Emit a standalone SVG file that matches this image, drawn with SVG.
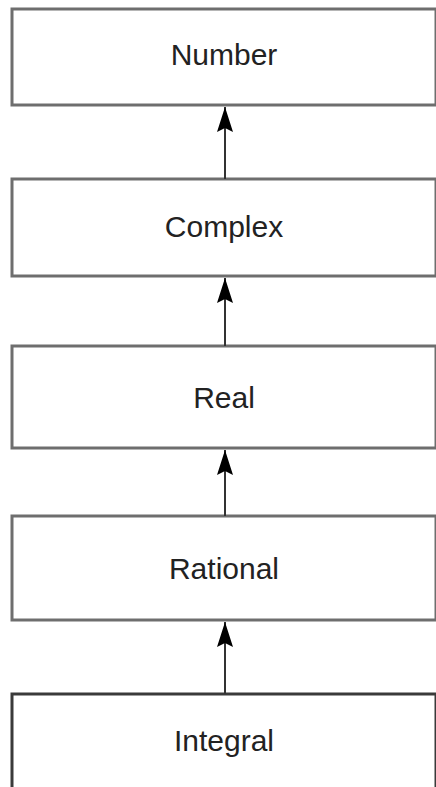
<svg xmlns="http://www.w3.org/2000/svg" width="436" height="787" viewBox="0 0 436 787">
  <style>
    .box { fill: #ffffff; stroke: #6e6e6e; stroke-width: 3; }
    .box.dark { stroke: #3a3a3a; }
    .label { font-family: "Liberation Sans", Arial, sans-serif; font-size: 30px; fill: #222222; text-anchor: middle; }
    .edge { stroke: #333333; stroke-width: 2; fill: none; marker-end: url(#arrow); }
  </style>
  <defs>
    <marker id="arrow" markerUnits="userSpaceOnUse" markerWidth="26" markerHeight="18" viewBox="0 0 26 18" refX="25" refY="9" orient="auto">
      <path d="M0,1 L25,9 L0,17 L4,9 z" fill="#000000"/>
    </marker>
  </defs>
  <rect width="436" height="787" fill="#ffffff"/>
  <g id="node-number">
    <rect class="box" x="12" y="9" width="424" height="96"/>
    <text class="label" x="224" y="65">Number</text>
  </g>
  <g id="node-complex">
    <rect class="box" x="12" y="179" width="424" height="97"/>
    <text class="label" x="224" y="237">Complex</text>
  </g>
  <g id="node-real">
    <rect class="box" x="12" y="346" width="424" height="102"/>
    <text class="label" x="224" y="408">Real</text>
  </g>
  <g id="node-rational">
    <rect class="box" x="12" y="516" width="424" height="104"/>
    <text class="label" x="224" y="579">Rational</text>
  </g>
  <g id="node-integral">
    <rect class="box dark" x="12" y="694" width="424" height="104"/>
    <text class="label" x="224" y="751">Integral</text>
  </g>
  <g id="connectors">
    <line class="edge" x1="225" y1="179" x2="225" y2="107"/>
    <line class="edge" x1="225" y1="346" x2="225" y2="278"/>
    <line class="edge" x1="225" y1="516" x2="225" y2="450"/>
    <line class="edge" x1="225" y1="694" x2="225" y2="622"/>
  </g>
</svg>
